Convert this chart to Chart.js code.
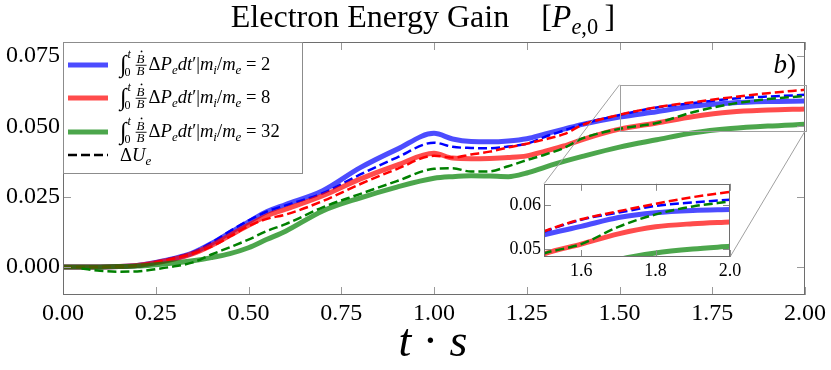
<!DOCTYPE html>
<html>
<head>
<meta charset="utf-8">
<script src="https://cdn.jsdelivr.net/npm/chart.js@4.4.1/dist/chart.umd.min.js"></script>
<style>
html, body { margin: 0; padding: 0; background: #fff; }
#wrap { position: relative; width: 831px; height: 370px; }
#main { position: absolute; left: 0; top: 0; }
#inset { position: absolute; left: 480px; top: 170px; }
</style>
</head>
<body>
<div id="wrap">
  <canvas id="main" width="831" height="370"></canvas>
  <canvas id="inset" width="270" height="120"></canvas>
</div>
<script>
// time axis (t*s) and the six curves
const tVals = [0, 0.05, 0.1, 0.15, 0.2, 0.25, 0.3, 0.35, 0.4, 0.45, 0.5, 0.55, 0.6, 0.7, 0.8, 0.9,
               1.0, 1.05, 1.1, 1.15, 1.2, 1.25, 1.3, 1.35, 1.4, 1.5, 1.6, 1.7, 1.8, 1.9, 2.0];
// integral of Bdot/B dP_e, for m_i/m_e = 2, 8, 32
const solid2  = [0, 0, 0, 0.0001, 0.0005, 0.0016, 0.003, 0.005, 0.0083, 0.0122, 0.016, 0.0197, 0.0222, 0.0271, 0.0352, 0.0418,
                 0.0475, 0.0455, 0.0446, 0.0445, 0.0448, 0.0456, 0.0473, 0.049, 0.0507, 0.0533, 0.0552, 0.0572, 0.0583, 0.0588, 0.059];
const solid8  = [0, 0, 0, 0.0001, 0.0005, 0.0015, 0.0028, 0.0047, 0.0076, 0.0112, 0.0148, 0.0182, 0.0205, 0.0253, 0.0312, 0.0362,
                 0.0404, 0.0387, 0.0385, 0.0386, 0.0389, 0.0395, 0.0412, 0.043, 0.0453, 0.049, 0.0512, 0.0535, 0.0551, 0.0558, 0.0562];
const solid32 = [0, 0, 0, 0.0001, 0.0003, 0.0008, 0.0014, 0.0022, 0.0033, 0.0047, 0.0068, 0.0098, 0.0127, 0.0199, 0.0245, 0.0284,
                 0.0315, 0.0321, 0.0324, 0.0323, 0.0321, 0.0334, 0.0355, 0.0375, 0.0393, 0.0426, 0.0452, 0.0477, 0.0492, 0.0501, 0.0507];
// Delta U_e (dashed)
const du2  = [0, 0, 0.0001, 0.0002, 0.0006, 0.0018, 0.0033, 0.0052, 0.0086, 0.0127, 0.0165, 0.0197, 0.0219, 0.0262, 0.0328, 0.0389,
              0.0442, 0.0427, 0.0423, 0.0422, 0.0428, 0.0438, 0.0463, 0.0485, 0.0508, 0.054, 0.0567, 0.0583, 0.0598, 0.0606, 0.0612];
const du8  = [0, 0, 0, 0.0001, 0.0005, 0.0016, 0.003, 0.0047, 0.0072, 0.0108, 0.0145, 0.0171, 0.0186, 0.0234, 0.0294, 0.0348,
              0.0395, 0.0389, 0.04, 0.041, 0.0425, 0.0438, 0.0454, 0.0472, 0.0505, 0.0541, 0.0568, 0.0586, 0.0603, 0.0618, 0.063];
const du32 = [null, -0.0006, -0.0014, -0.0017, -0.0016, -0.0008, 0.0002, 0.0016, 0.0044, 0.007, 0.0097, 0.0128, 0.0152, 0.0212, 0.0259, 0.0305,
              0.0349, 0.0351, 0.0339, 0.034, 0.0358, 0.038, 0.04, 0.0423, 0.0457, 0.0491, 0.0512, 0.0551, 0.0579, 0.0597, 0.0608];

const massRatios = ['2', '8', '32'];
const xTicks = [0, 0.25, 0.5, 0.75, 1, 1.25, 1.5, 1.75, 2];
const yTicks = [0, 0.025, 0.05, 0.075];
const insetXTicks = [1.6, 1.8, 2.0];
const insetYTicks = [0.05, 0.06];
const insetX = [1.5, 2.0];
const insetY = [0.0483, 0.0648];

const SERIF = '"Liberation Serif", "DejaVu Serif", serif';
const solidCols = ['rgba(0,0,255,0.7)', 'rgba(255,0,0,0.7)', 'rgba(0,128,0,0.7)'];
const dashCols = ['#0000ff', '#ff0000', '#008000'];

function pts(arr) {
    return tVals.map((t, i) => ({x: t, y: arr[i]}));
}

function makeSets() {
    const solid = [solid2, solid8, solid32];
    const dashed = [du2, du8, du32];
    let sets = [];
    for (let k = 0; k < 3; k++) {
        sets.push({data: pts(solid[k]), borderColor: solidCols[k], borderWidth: 5, order: 6 - 2 * k});
        sets.push({data: pts(dashed[k]), borderColor: dashCols[k], borderWidth: 2.5, borderDash: [9, 4], order: 5 - 2 * k});
    }
    return sets;
}

// draw a row of text pieces: [text, italic, scale, dy (em)]
function run(ctx, x, y, size, parts, draw = true) {
    let cx = x;
    parts.forEach(p => {
        const fs = size * (p[2] || 1);
        ctx.font = (p[1] ? 'italic ' : '') + fs + 'px ' + SERIF;
        if (draw) ctx.fillText(p[0], cx, y + (p[3] || 0) * size);
        cx += ctx.measureText(p[0]).width;
    });
    return cx - x;
}

function legendFormula(ctx, x, y, F, val) {
    let cx = x;
    cx += run(ctx, cx, y, F, [['\u222B', 0, 1.3, 0.1]]);
    run(ctx, cx + 1, y, F, [['t', 1, 0.65, -0.62]]);
    run(ctx, cx - 2, y, F, [['0', 0, 0.65, 0.32]]);
    cx += 9;
    ctx.font = 'italic ' + 0.7 * F + 'px ' + SERIF;
    const bw = ctx.measureText('B').width;
    const bar = y - 0.28 * F;
    ctx.fillText('B', cx + 1, bar - 0.1 * F);
    ctx.fillText('B', cx + 1, bar + 0.56 * F);
    ctx.fillRect(cx, bar, bw + 3, 0.9);
    ctx.beginPath();
    ctx.arc(cx + 1 + bw * 0.62, bar - 0.72 * F, 0.9, 0, 2 * Math.PI);
    ctx.fill();
    cx += bw + 5;
    run(ctx, cx, y, F, [['\u0394', 0], ['P', 1], ['e', 1, 0.7, 0.2], ['dt', 1], ['\u2032', 0], ['|', 0], ['m', 1],
        ['i', 1, 0.7, 0.2], ['/', 0], ['m', 1], ['e', 1, 0.7, 0.2], [' = ' + val, 0]]);
}

function drawFrame(chart, len, frameCol, tickCol) {
    const {ctx, chartArea: a, scales: {x, y}} = chart;
    ctx.save();
    ctx.lineWidth = 1;
    ctx.strokeStyle = tickCol;
    ctx.beginPath();
    x.ticks.forEach(t => {
        const px = Math.round(x.getPixelForValue(t.value)) + 0.5;
        ctx.moveTo(px, a.bottom); ctx.lineTo(px, a.bottom - len);
        ctx.moveTo(px, a.top); ctx.lineTo(px, a.top + len);
    });
    y.ticks.forEach(t => {
        const py = Math.round(y.getPixelForValue(t.value)) + 0.5;
        ctx.moveTo(a.left, py); ctx.lineTo(a.left + len, py);
        ctx.moveTo(a.right, py); ctx.lineTo(a.right - len, py);
    });
    ctx.stroke();
    ctx.strokeStyle = frameCol;
    ctx.strokeRect(Math.round(a.left) + 0.5, Math.round(a.top) + 0.5,
        Math.round(a.right - a.left) - 1, Math.round(a.bottom - a.top) - 1);
    ctx.restore();
}

function scaleOpts(min, max, ticks, digits, fs, pad, fit) {
    return {
        type: 'linear', min: min, max: max,
        grid: {display: false, drawTicks: false}, border: {display: false},
        ticks: {color: '#000', font: {family: SERIF, size: fs}, padding: pad, maxRotation: 0,
            callback: v => v.toFixed(digits)},
        afterBuildTicks: s => { s.ticks = ticks.map(v => ({value: v})); },
        afterFit: fit
    };
}

const insetPlugin = {
    id: 'insetStuff',
    beforeDatasetsDraw(chart) {
        const {ctx, chartArea: a} = chart;
        ctx.save();
        ctx.fillStyle = '#fff';
        ctx.fillRect(a.left, a.top, a.right - a.left, a.bottom - a.top);
        ctx.restore();
    },
    afterDatasetsDraw(chart) {
        drawFrame(chart, 7, '#6e6e6e', '#8a8a8a');
    }
};

const insetChart = new Chart(document.getElementById('inset'), {
    type: 'line',
    data: {datasets: makeSets()},
    options: {
        responsive: false, animation: false, events: [],
        layout: {padding: {top: 11, right: 20, left: 0, bottom: 0}},
        datasets: {line: {pointRadius: 0, fill: false, cubicInterpolationMode: 'monotone', clip: 0}},
        plugins: {legend: {display: false}, tooltip: {enabled: false}},
        scales: {
            x: scaleOpts(insetX[0], insetX[1], insetXTicks, 1, 18, 3, s => { s.height = 33; }),
            y: scaleOpts(insetY[0], insetY[1], insetYTicks, 2, 18, 3, s => { s.width = 64; })
        }
    },
    plugins: [insetPlugin]
});

const mainPlugin = {
    id: 'mainStuff',
    afterDatasetsDraw(chart) {
        drawFrame(chart, 8, '#6e6e6e', '#9a9a9a');
    },
    afterDraw(chart) {
        const {ctx, chartArea: a, scales: {x, y}} = chart;
        ctx.save();
        // zoom box and connectors to the inset
        const rx0 = x.getPixelForValue(insetX[0]), rx1 = x.getPixelForValue(insetX[1]);
        const ry0 = y.getPixelForValue(insetY[1]), ry1 = y.getPixelForValue(insetY[0]);
        const ia = insetChart.chartArea, ox = 480, oy = 170;
        ctx.strokeStyle = '#a0a0a0';
        ctx.lineWidth = 1;
        ctx.strokeRect(Math.round(rx0) + 0.5, Math.round(ry0) + 0.5, Math.round(rx1 - rx0), Math.round(ry1 - ry0));
        ctx.beginPath();
        ctx.moveTo(rx0, ry0); ctx.lineTo(ia.left + ox, ia.top + oy);
        ctx.moveTo(rx1, ry1); ctx.lineTo(ia.right + ox, ia.bottom + oy);
        ctx.stroke();

        // legend
        const lx = a.left, ly = a.top, lw = 239, lh = 131;
        ctx.fillStyle = '#fff';
        ctx.fillRect(lx, ly, lw, lh);
        ctx.strokeStyle = '#8c8c8c';
        ctx.strokeRect(Math.round(lx) + 0.5, Math.round(ly) + 0.5, lw, lh);
        const rows = [65, 98, 132, 155];
        ctx.fillStyle = '#000';
        for (let k = 0; k < 3; k++) {
            ctx.strokeStyle = solidCols[k];
            ctx.lineWidth = 5;
            ctx.beginPath(); ctx.moveTo(68, rows[k]); ctx.lineTo(108, rows[k]); ctx.stroke();
            legendFormula(ctx, 120, rows[k] + 5, 18.6, massRatios[k]);
        }
        ctx.strokeStyle = '#000';
        ctx.lineWidth = 2.5;
        ctx.setLineDash([9, 4]);
        ctx.beginPath(); ctx.moveTo(68, rows[3]); ctx.lineTo(108, rows[3]); ctx.stroke();
        ctx.setLineDash([]);
        run(ctx, 120, rows[3] + 6, 18.6, [['\u0394', 0], ['U', 1], ['e', 1, 0.7, 0.2]]);

        // title
        const tparts = [['Electron Energy Gain', 0], ['\u2002\u2002[', 0], ['P', 1], ['e', 1, 0.7, 0.22],
                        [',0', 0, 0.7, 0.22], ['\u2009]', 0]];
        const tw = run(ctx, 0, 0, 32, tparts, false);
        run(ctx, 423 - tw / 2, 27, 32, tparts);

        // panel tag
        const bparts = [['b', 1], [')', 0]];
        const bw = run(ctx, 0, 0, 27, bparts, false);
        run(ctx, 796 - bw, 73, 27, bparts);

        // x axis label
        const xparts = [['t', 1], [' \u00B7 ', 0], ['s', 1]];
        const xw = run(ctx, 0, 0, 46, xparts, false);
        run(ctx, 433 - xw / 2, 356, 46, xparts);
        ctx.restore();
    }
};

const mainChart = new Chart(document.getElementById('main'), {
    type: 'line',
    data: {datasets: makeSets()},
    options: {
        responsive: false, animation: false, events: [],
        layout: {padding: {top: 42, right: 26, left: 0, bottom: 0}},
        datasets: {line: {pointRadius: 0, fill: false, cubicInterpolationMode: 'monotone'}},
        plugins: {legend: {display: false}, tooltip: {enabled: false}},
        scales: {
            x: scaleOpts(0, 2, xTicks, 2, 24, 4, s => { s.height = 75; }),
            y: scaleOpts(-0.01, 0.08, yTicks, 3, 24, 3, s => { s.width = 63; })
        }
    },
    plugins: [mainPlugin]
});
</script>
</body>
</html>
